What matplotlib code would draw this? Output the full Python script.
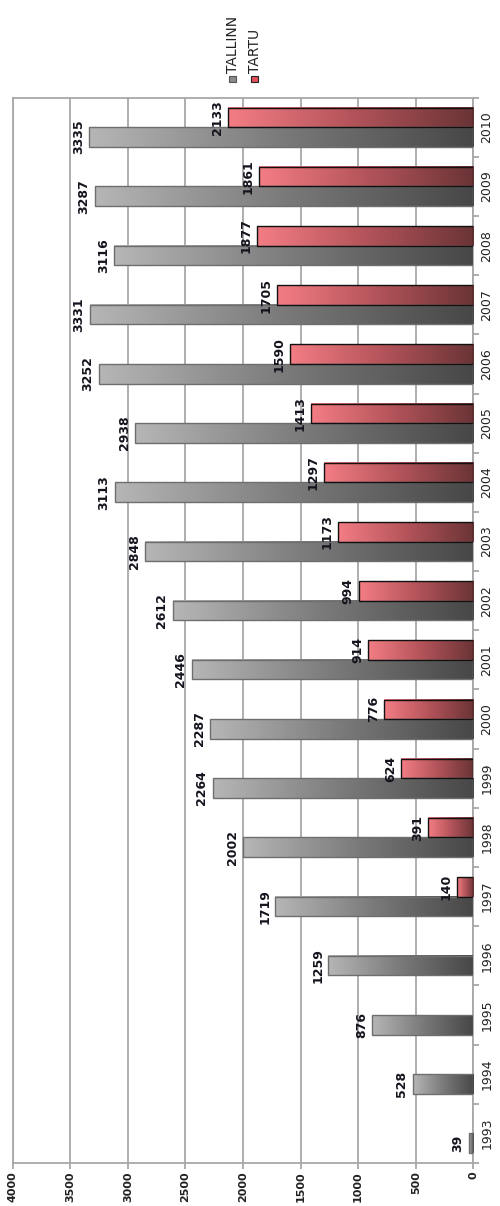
import numpy as np
import matplotlib
matplotlib.use("Agg")
import matplotlib.pyplot as plt
from matplotlib.colors import LinearSegmentedColormap
from matplotlib.patches import Rectangle

years = [1993, 1994, 1995, 1996, 1997, 1998, 1999, 2000, 2001,
         2002, 2003, 2004, 2005, 2006, 2007, 2008, 2009, 2010]
tallinn = [39, 528, 876, 1259, 1719, 2002, 2264, 2287, 2446,
           2612, 2848, 3113, 2938, 3252, 3331, 3116, 3287, 3335]
tartu = [None, None, None, None, 140, 391, 624, 776, 914,
         994, 1173, 1297, 1413, 1590, 1705, 1877, 1861, 2133]
value_ticks = [0, 500, 1000, 1500, 2000, 2500, 3000, 3500, 4000]

# dark at base -> light at bar end
gray_cm = LinearSegmentedColormap.from_list("g", ["#474747", "#7a7a7a", "#b6b6b6"])
red_cm = LinearSegmentedColormap.from_list("r", ["#6a3436", "#b4545a", "#f47d85"])
grad = np.linspace(0, 1, 256).reshape(1, -1)

fig = plt.figure(figsize=(5, 12.06), dpi=100)
ax = fig.add_axes([0.0254, 0.0357, 0.9212, 0.8833])

h = 0.33
pos = np.arange(len(years))


def draw_bar(v, y0, cmap, edge):
    ax.imshow(grad, cmap=cmap, extent=(0, v, y0, y0 + h), aspect="auto",
              zorder=3, interpolation="bilinear")
    ax.add_patch(Rectangle((0, y0), v, h, facecolor="none", edgecolor=edge,
                           linewidth=1.0, zorder=4))


lab_kw = dict(rotation=90, ha="right", va="center", fontsize=9,
              fontweight="bold", color="#14141e", textcoords="offset points",
              xytext=(-3, 0), zorder=5)

for i, v in enumerate(tallinn):
    y0 = pos[i] - h
    draw_bar(v, y0, gray_cm, "#6e6e6e")
    ax.annotate(str(v), (v, y0 + h / 2), **lab_kw)

for i, v in enumerate(tartu):
    if v is None:
        continue
    y0 = pos[i]
    draw_bar(v, y0, red_cm, "#111111")
    ax.annotate(str(v), (v, y0 + h / 2), **lab_kw)

ax.set_xlim(4000, 0)
ax.set_ylim(-0.5, len(years) - 0.5)

ax.set_xticks(value_ticks)
ax.set_xticklabels([str(t) for t in value_ticks], rotation=90, fontsize=8,
                   fontweight="bold", color="#222222")
ax.xaxis.grid(True, color="#a8a8a8", linewidth=1.3, zorder=0)
ax.set_axisbelow(True)

ax.set_yticks(pos)
ax.set_yticklabels([str(y) for y in years], rotation=90, va="center",
                   fontsize=9, color="#222222")
ax.yaxis.tick_right()
ax.set_yticks(np.arange(-0.5, len(years), 1), minor=True)
ax.tick_params(axis="y", which="major", length=0, pad=5)
ax.tick_params(axis="y", which="minor", length=4, color="#a0a0a0", width=1.2)
ax.tick_params(axis="x", length=4, color="#a0a0a0", width=1.2, pad=2)

for s in ax.spines.values():
    s.set_color("#a8a8a8")
    s.set_linewidth(1.3)

# legend, drawn rotated like the chart
fig.patches.append(Rectangle((0.458, 1 - 82 / 1206), 0.013, 6 / 1206,
                             transform=fig.transFigure, facecolor="#8a8a8a",
                             edgecolor="#555555", linewidth=0.8))
fig.patches.append(Rectangle((0.502, 1 - 82 / 1206), 0.013, 6 / 1206,
                             transform=fig.transFigure, facecolor="#e2505c",
                             edgecolor="#222222", linewidth=0.8))
fig.text(0.466, 1 - 73 / 1206, "TALLINN", rotation=90, ha="center", va="bottom",
         fontsize=10, color="#222222")
fig.text(0.510, 1 - 73 / 1206, "TARTU", rotation=90, ha="center", va="bottom",
         fontsize=10, color="#222222")

fig.savefig("out.png", dpi=100)
